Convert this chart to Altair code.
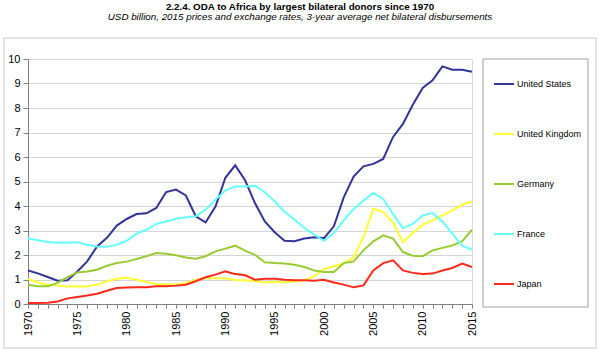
import altair as alt
import pandas as pd

years = list(range(1970, 2016))
donors = ["United States", "United Kingdom", "Germany", "France", "Japan"]
colors = ["#333399", "#ffff33", "#99cc33", "#66ffff", "#ff2a1a"]

us = [1.37,1.25,1.1,0.95,0.97,1.33,1.74,2.35,2.7,3.2,
      3.47,3.67,3.7,3.92,4.57,4.67,4.43,3.58,3.33,3.98,
      5.15,5.66,5.05,4.12,3.37,2.93,2.58,2.56,2.67,2.72,
      2.69,3.17,4.35,5.2,5.62,5.72,5.92,6.82,7.35,8.13,
      8.82,9.13,9.7,9.56,9.56,9.48]
uk = [1.02,0.88,0.79,0.75,0.71,0.72,0.71,0.79,0.93,1.03,
      1.07,0.99,0.9,0.82,0.8,0.8,0.86,0.99,1.05,1.05,
      1.05,0.98,0.97,0.93,0.88,0.91,0.88,0.93,0.97,1.13,
      1.43,1.54,1.65,1.92,2.73,3.89,3.76,3.31,2.53,2.9,
      3.24,3.41,3.62,3.82,4.05,4.19]
germany = [0.79,0.72,0.72,0.86,1.1,1.29,1.33,1.4,1.56,1.67,
           1.73,1.84,1.95,2.08,2.05,1.99,1.9,1.85,1.95,2.15,
           2.26,2.38,2.18,2.01,1.7,1.67,1.65,1.6,1.51,1.37,
           1.31,1.31,1.67,1.74,2.19,2.56,2.8,2.67,2.12,1.97,
           1.95,2.19,2.29,2.39,2.56,3.03]
france = [2.67,2.6,2.53,2.5,2.5,2.52,2.42,2.35,2.34,2.42,
          2.58,2.87,3.03,3.27,3.37,3.48,3.54,3.58,3.85,4.26,
          4.63,4.8,4.8,4.83,4.56,4.19,3.76,3.45,3.1,2.83,
          2.58,2.9,3.41,3.88,4.22,4.53,4.29,3.67,3.1,3.27,
          3.62,3.71,3.37,2.87,2.38,2.22]
japan = [0.04,0.04,0.05,0.1,0.23,0.29,0.35,0.42,0.54,0.65,
         0.67,0.68,0.68,0.72,0.72,0.75,0.79,0.93,1.09,1.2,
         1.33,1.22,1.17,0.99,1.03,1.03,0.99,0.97,0.97,0.95,
         0.99,0.88,0.79,0.68,0.76,1.37,1.67,1.78,1.37,1.27,
         1.22,1.24,1.37,1.47,1.65,1.51]

title = "2.2.4. ODA to Africa by largest bilateral donors since 1970"
subtitle = "USD billion, 2015 prices and exchange rates, 3-year average net bilateral disbursements"

series = [us, uk, germany, france, japan]
rows = []
for d, vals in zip(donors, series):
    for y, v in zip(years, vals):
        rows.append({"year": y, "donor": d, "value": v})
df = pd.DataFrame(rows)

FONT = "Liberation Sans"
one = pd.DataFrame({"a": [0]})

outer = alt.Chart(one).mark_rect(fillOpacity=0, stroke="#c8c8c8", strokeWidth=1).encode(
    x=alt.value(-24), x2=alt.value(568), y=alt.value(-21), y2=alt.value(289))

legbox = alt.Chart(one).mark_rect(fillOpacity=0, stroke="#a0a0a0", strokeWidth=1).encode(
    x=alt.value(455), x2=alt.value(560), y=alt.value(0), y2=alt.value(248))

t1 = alt.Chart(one).mark_text(text=title, font=FONT, fontSize=9.8, fontWeight="bold",
                              align="center", baseline="middle", color="#000").encode(
    x=alt.value(272), y=alt.value(-52.5))
t2 = alt.Chart(one).mark_text(text=subtitle, font=FONT, fontSize=9.8, fontStyle="italic",
                              align="center", baseline="middle", color="#000").encode(
    x=alt.value(272), y=alt.value(-42))

lines = alt.Chart(df).mark_line(strokeWidth=2, clip=False).encode(
    x=alt.X("year:Q", scale=alt.Scale(domain=[1970, 2015], nice=False, zero=False),
            axis=alt.Axis(values=years, labelExpr="datum.value % 5 == 0 ? datum.label : ''",
                          format="d", labelAngle=270, labelAlign="right", labelBaseline="middle",
                          grid=False, tickSize=4, tickColor="#808080", domainColor="#808080",
                          labelFont=FONT, labelFontSize=11, labelColor="#000", labelPadding=3,
                          title=None, labelOverlap=False)),
    y=alt.Y("value:Q", scale=alt.Scale(domain=[0, 10], nice=False),
            axis=alt.Axis(values=list(range(0, 11)), grid=True, gridColor="#d4d4d4",
                          tickSize=5, tickColor="#808080", domainColor="#808080",
                          labelFont=FONT, labelFontSize=11, labelColor="#000", labelPadding=3,
                          title=None)),
    color=alt.Color("donor:N", sort=donors,
                    scale=alt.Scale(domain=donors, range=colors),
                    legend=alt.Legend(orient="none", legendX=465, legendY=14, title=None,
                                      symbolType="stroke", symbolSize=400, symbolStrokeWidth=2,
                                      labelFont=FONT, labelFontSize=9, labelColor="#000",
                                      labelOffset=2, rowPadding=34, padding=0)),
    order=alt.value(0),
)

chart = alt.layer(outer, legbox, t1, t2, lines).properties(
    width=444, height=245,
    autosize=alt.AutoSizeParams(type="none"),
    padding={"left": 28, "top": 59, "right": 128, "bottom": 49},
).configure_view(stroke=None).configure(background="white")

chart.save("out.html", embed_options={"renderer": "svg", "actions": False})
